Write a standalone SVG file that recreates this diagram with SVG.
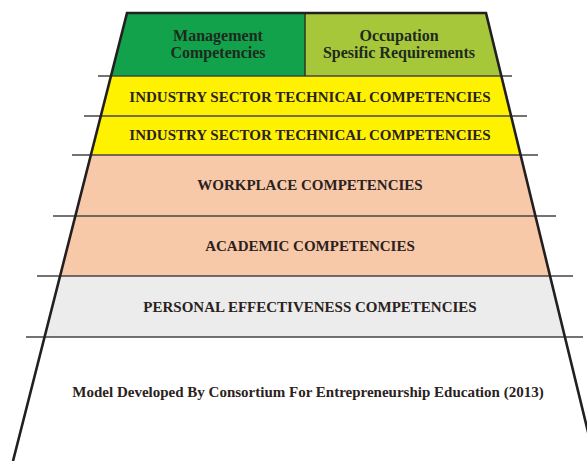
<svg xmlns="http://www.w3.org/2000/svg" width="587" height="461" viewBox="0 0 587 461">
<style>
.t{font-family:"Liberation Serif","Times New Roman",serif;font-weight:bold;font-size:15px;fill:#2a2220;text-anchor:middle}
.h{font-size:16px;fill:#1e2a1e}
.sep{stroke:#444;stroke-width:1.5;fill:none}
.edge{stroke:#231f20;stroke-width:2.6;fill:none;stroke-linejoin:miter}
</style>
<rect width="587" height="461" fill="#fff"/>
<g id="management">
<polygon points="127,13 305,13 305,76 111,76" fill="#12a24b"/>
<text class="t h" x="218" y="41">Management</text>
<text class="t h" x="218" y="58">Competencies</text>
</g>
<g id="occupation">
<polygon points="305,13 486,13 501.3,76 305,76" fill="#a6c73a"/>
<text class="t h" x="399" y="41">Occupation</text>
<text class="t h" x="399" y="58">Spesific Requirements</text>
</g>
<g id="industry1">
<polygon points="111,76 501.3,76 511.1,116 100.8,116" fill="#fff200"/>
<text class="t" x="310" y="102">INDUSTRY SECTOR TECHNICAL COMPETENCIES</text>
</g>
<g id="industry2">
<polygon points="100.8,116 511.1,116 520.6,155 90.9,155" fill="#fff200"/>
<text class="t" x="310" y="140">INDUSTRY SECTOR TECHNICAL COMPETENCIES</text>
</g>
<g id="workplace">
<polygon points="90.9,155 520.6,155 535.4,216 75.3,216" fill="#f7c9a9"/>
<text class="t" x="310" y="190">WORKPLACE COMPETENCIES</text>
</g>
<g id="academic">
<polygon points="75.3,216 535.4,216 550,276 60.1,276" fill="#f7c9a9"/>
<text class="t" x="310" y="251">ACADEMIC COMPETENCIES</text>
</g>
<g id="personal">
<polygon points="60.1,276 550,276 564.9,337 44.5,337" fill="#ececec"/>
<text class="t" x="310" y="312">PERSONAL EFFECTIVENESS COMPETENCIES</text>
</g>
<g id="base">
<text class="t" x="308" y="397">Model Developed By Consortium For Entrepreneurship Education (2013)</text>
</g>
<g id="connectors">
<line class="sep" x1="98" y1="76" x2="512" y2="76"/>
<line class="sep" x1="84" y1="116" x2="527" y2="116"/>
<line class="sep" x1="72" y1="155" x2="538" y2="155"/>
<line class="sep" x1="53" y1="216" x2="556" y2="216"/>
<line class="sep" x1="37" y1="276" x2="573" y2="276"/>
<line class="sep" x1="26" y1="337" x2="583" y2="337"/>
<line x1="305" y1="13" x2="305" y2="76" stroke="#2a3a22" stroke-width="1.5"/>
<polyline class="edge" points="13,461 127,13 486,13 595.1,461"/>
</g>
</svg>
